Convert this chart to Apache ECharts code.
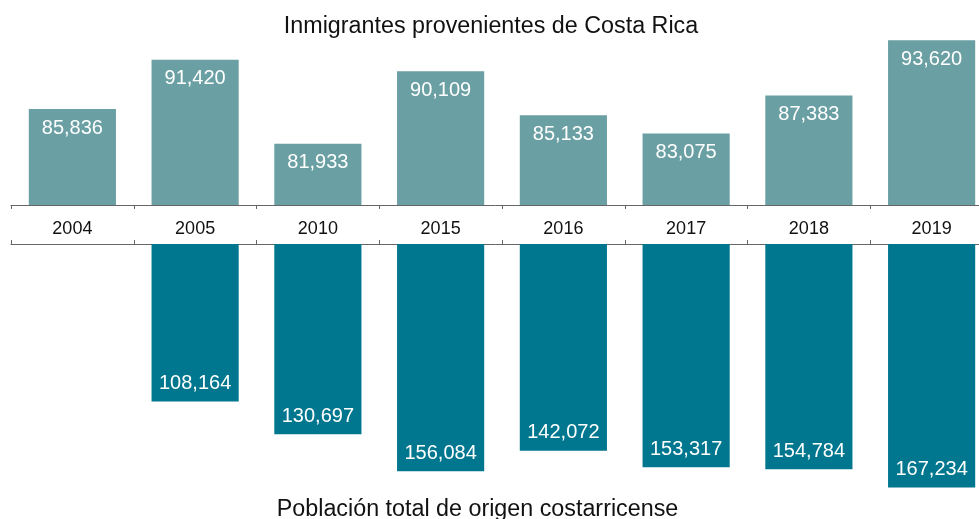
<!DOCTYPE html>
<html>
<head>
<meta charset="utf-8">
<script src="https://cdn.jsdelivr.net/npm/echarts@6/dist/echarts.min.js"></script>
<style>
  html, body { margin: 0; padding: 0; background: #fff; }
  #chart { width: 979px; height: 519px; }
</style>
</head>
<body>
<div id="chart"></div>
<script>
const years = ['2004', '2005', '2010', '2015', '2016', '2017', '2018', '2019'];
const immigrants = [85836, 91420, 81933, 90109, 85133, 83075, 87383, 93620];
const population = [null, 108164, 130697, 156084, 142072, 153317, 154784, 167234];

const chart = echarts.init(document.getElementById('chart'));
const fmt = (p) => p.value == null ? '' : Number(p.value).toLocaleString('en-US');
const font = 'Liberation Sans, Arial, sans-serif';

const axisCommon = {
  type: 'category',
  data: years,
  axisLine: { lineStyle: { color: '#666', width: 1 } },
  axisTick: { show: true, length: 4, alignWithLabel: false, lineStyle: { color: '#666' } },
  splitLine: { show: false }
};

chart.setOption({
  animation: false,
  textStyle: { fontFamily: font },
  title: [
    {
      text: 'Inmigrantes provenientes de Costa Rica',
      left: 486, top: 10, textAlign: 'center',
      textStyle: { fontSize: 23.3, fontWeight: 'normal', color: '#111', fontFamily: font }
    },
    {
      text: 'Población total de origen costarricense',
      left: 472.5, top: 493, textAlign: 'center',
      textStyle: { fontSize: 23.3, fontWeight: 'normal', color: '#111', fontFamily: font }
    }
  ],
  grid: [
    { left: 11, width: 982, top: 28, height: 177, outerBoundsMode: 'none', containLabel: false },
    { left: 11, width: 982, top: 244, height: 262, outerBoundsMode: 'none', containLabel: false }
  ],
  xAxis: [
    Object.assign({}, axisCommon, { gridIndex: 0, position: 'bottom', axisLabel: { show: false } }),
    Object.assign({}, axisCommon, {
      gridIndex: 1, position: 'top',
      axisLabel: { show: true, color: '#111', fontSize: 18, margin: 6, fontFamily: font }
    })
  ],
  yAxis: [
    { type: 'value', gridIndex: 0, min: 75000, max: 95000, show: false, splitLine: { show: false } },
    { type: 'value', gridIndex: 1, min: 0, max: 180000, inverse: true, show: false, splitLine: { show: false } }
  ],
  series: [
    {
      name: 'Inmigrantes',
      type: 'bar',
      xAxisIndex: 0, yAxisIndex: 0,
      data: immigrants,
      barCategoryGap: '29%',
      itemStyle: { color: '#6a9fa3' },
      label: { show: true, position: 'insideTop', distance: 9, color: '#fff', fontSize: 20, formatter: fmt, fontFamily: font }
    },
    {
      name: 'Población',
      type: 'bar',
      xAxisIndex: 1, yAxisIndex: 1,
      data: population,
      barCategoryGap: '29%',
      itemStyle: { color: '#00778e' },
      label: { show: true, position: 'insideBottom', distance: 8, color: '#fff', fontSize: 20, formatter: fmt, fontFamily: font }
    }
  ]
});
</script>
</body>
</html>
